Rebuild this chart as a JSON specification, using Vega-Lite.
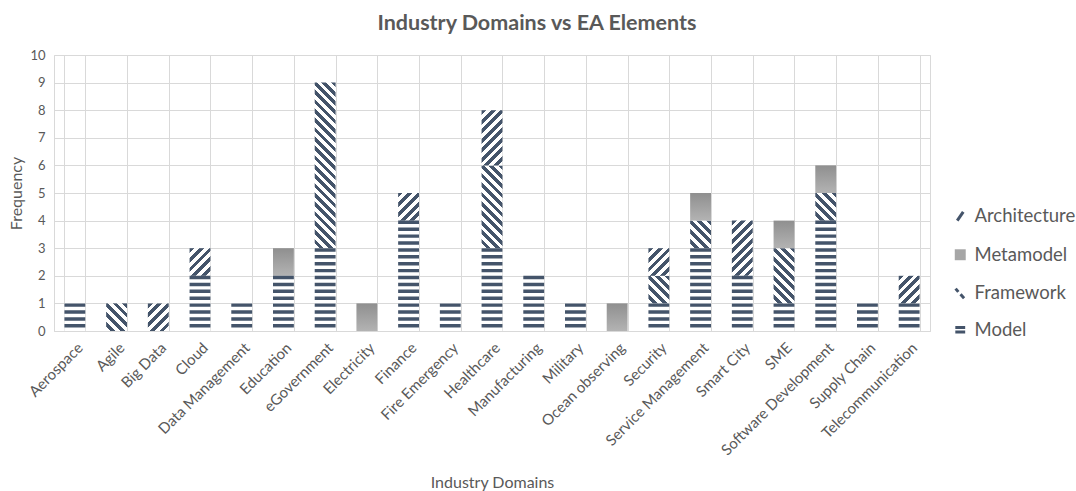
{
  "$schema": "https://vega.github.io/schema/vega-lite/v6.json",
  "width": 876,
  "height": 276,
  "autosize": "none",
  "padding": {"left": 54, "top": 55, "right": 146, "bottom": 160},
  "background": "white",
  "title": {"text": "Industry Domains vs EA Elements", "font": "Lato", "fontSize": 21.5, "fontWeight": "bold", "color": "#595959", "anchor": "middle", "dx": 45, "offset": 15},
  "config": {"font": "Lato", "view": {"stroke": "#d9d9d9"}},
  "data": {"values": [
    {"domain": "Aerospace", "element": "Model", "count": 1},
    {"domain": "Agile", "element": "Framework", "count": 1},
    {"domain": "Big Data", "element": "Architecture", "count": 1},
    {"domain": "Cloud", "element": "Model", "count": 2},
    {"domain": "Cloud", "element": "Architecture", "count": 1},
    {"domain": "Data Management", "element": "Model", "count": 1},
    {"domain": "Education", "element": "Model", "count": 2},
    {"domain": "Education", "element": "Metamodel", "count": 1},
    {"domain": "eGovernment", "element": "Model", "count": 3},
    {"domain": "eGovernment", "element": "Framework", "count": 6},
    {"domain": "Electricity", "element": "Metamodel", "count": 1},
    {"domain": "Finance", "element": "Model", "count": 4},
    {"domain": "Finance", "element": "Architecture", "count": 1},
    {"domain": "Fire Emergency", "element": "Model", "count": 1},
    {"domain": "Healthcare", "element": "Model", "count": 3},
    {"domain": "Healthcare", "element": "Framework", "count": 3},
    {"domain": "Healthcare", "element": "Architecture", "count": 2},
    {"domain": "Manufacturing", "element": "Model", "count": 2},
    {"domain": "Military", "element": "Model", "count": 1},
    {"domain": "Ocean observing", "element": "Metamodel", "count": 1},
    {"domain": "Security", "element": "Model", "count": 1},
    {"domain": "Security", "element": "Framework", "count": 1},
    {"domain": "Security", "element": "Architecture", "count": 1},
    {"domain": "Service Management", "element": "Model", "count": 3},
    {"domain": "Service Management", "element": "Framework", "count": 1},
    {"domain": "Service Management", "element": "Metamodel", "count": 1},
    {"domain": "Smart City", "element": "Model", "count": 2},
    {"domain": "Smart City", "element": "Architecture", "count": 2},
    {"domain": "SME", "element": "Model", "count": 1},
    {"domain": "SME", "element": "Framework", "count": 2},
    {"domain": "SME", "element": "Metamodel", "count": 1},
    {"domain": "Software Development", "element": "Model", "count": 4},
    {"domain": "Software Development", "element": "Framework", "count": 1},
    {"domain": "Software Development", "element": "Metamodel", "count": 1},
    {"domain": "Supply Chain", "element": "Model", "count": 1},
    {"domain": "Telecommunication", "element": "Model", "count": 1},
    {"domain": "Telecommunication", "element": "Architecture", "count": 1}
  ]},
  "transform": [
    {"calculate": "indexof(['Model','Framework','Metamodel','Architecture'], datum.element)", "as": "ord"},
    {"stack": "count", "groupby": ["domain"], "sort": [{"field": "ord", "order": "ascending"}], "as": ["y0", "y1"]}
  ],
  "encoding": {
    "x": {"field": "domain", "type": "nominal", "sort": null,
      "scale": {"paddingInner": 0.5, "paddingOuter": 0.25},
      "axis": {"title": "Industry Domains", "labelAngle": -45, "labelFontSize": 15, "labelColor": "#595959", "ticks": false, "domainColor": "#d9d9d9", "grid": true, "gridColor": "#d9d9d9", "tickBand": "extent", "labelPadding": 9, "titleFontSize": 16, "titleFontWeight": "normal", "titleColor": "#595959", "titlePadding": 17}},
    "y": {"field": "y1", "type": "quantitative", "scale": {"domain": [0, 10]},
      "axis": {"title": "Frequency", "values": [0,1,2,3,4,5,6,7,8,9,10], "domain": false, "ticks": false, "grid": true, "gridColor": "#d9d9d9", "labelFontSize": 13, "labelColor": "#595959", "labelPadding": 9, "titleFontSize": 16, "titleFontWeight": "normal", "titleColor": "#595959", "titlePadding": 5}},
    "y2": {"field": "y0"}
  },
  "layer": [
    {
      "mark": {"type": "bar", "strokeWidth": 0},
      "encoding": {
        "fill": {
          "field": "element", "type": "nominal",
          "scale": {"domain": ["Architecture", "Metamodel", "Framework", "Model"], "range": ["#44546a", "#a6a6a6", "#44546a", "#ffffff"]},
          "legend": {
            "title": null, "orient": "none", "legendX": 897, "legendY": 152,
            "labelFontSize": 18.5, "labelColor": "#595959", "labelFont": "Lato",
            "rowPadding": 15.5, "symbolSize": 120, "labelOffset": 5,
            "symbolStrokeWidth": 2.5, "symbolStrokeColor": "#44546a",
            "encoding": {"symbols": {
              "shape": {"condition": [
                {"test": "datum.value === 'Architecture'", "value": "M-0.55,0.8L0.55,-0.8"},
                {"test": "datum.value === 'Framework'", "value": "M-0.85,-0.85L-0.35,-0.25M0.05,0.2L0.7,0.9"},
                {"test": "datum.value === 'Model'", "value": "M-0.9,-0.4L0.9,-0.4M-0.9,0.4L0.9,0.4"}
              ], "value": "square"},
              "stroke": {"condition": {"test": "datum.value === 'Metamodel'", "value": "transparent"}, "value": "#44546a"},
              "fill": {"condition": {"test": "datum.value === 'Metamodel'", "value": "#a6a6a6"}, "value": "transparent"},
              "strokeWidth": {"value": 3}
            }}
          },
          "condition": [
            {"test": "datum.element === 'Metamodel'", "value": {"gradient": "linear", "x1": 0, "y1": 0, "x2": 0, "y2": 1, "stops": [{"offset": 0, "color": "#8f8f8f"}, {"offset": 1, "color": "#b3b3b3"}]}},
            {"test": "datum.element === 'Framework' && datum.count === 1", "value": {"gradient": "linear", "x1": 1, "y1": 0, "x2": 0.1555, "y2": 1.1175, "stops": [
              {"offset":0,"color":"#44546a"},{"offset":0.1,"color":"#44546a"},{"offset":0.1,"color":"#fff"},{"offset":0.2,"color":"#fff"},{"offset":0.2,"color":"#44546a"},{"offset":0.3,"color":"#44546a"},{"offset":0.3,"color":"#fff"},{"offset":0.4,"color":"#fff"},{"offset":0.4,"color":"#44546a"},{"offset":0.5,"color":"#44546a"},{"offset":0.5,"color":"#fff"},{"offset":0.6,"color":"#fff"},{"offset":0.6,"color":"#44546a"},{"offset":0.7,"color":"#44546a"},{"offset":0.7,"color":"#fff"},{"offset":0.8,"color":"#fff"},{"offset":0.8,"color":"#44546a"},{"offset":0.9,"color":"#44546a"},{"offset":0.9,"color":"#fff"},{"offset":1,"color":"#fff"}]}},
            {"test": "datum.element === 'Architecture' && datum.count === 1", "value": {"gradient": "linear", "x1": 0, "y1": 0, "x2": 0.8445, "y2": 1.1175, "stops": [
              {"offset":0,"color":"#44546a"},{"offset":0.1,"color":"#44546a"},{"offset":0.1,"color":"#fff"},{"offset":0.2,"color":"#fff"},{"offset":0.2,"color":"#44546a"},{"offset":0.3,"color":"#44546a"},{"offset":0.3,"color":"#fff"},{"offset":0.4,"color":"#fff"},{"offset":0.4,"color":"#44546a"},{"offset":0.5,"color":"#44546a"},{"offset":0.5,"color":"#fff"},{"offset":0.6,"color":"#fff"},{"offset":0.6,"color":"#44546a"},{"offset":0.7,"color":"#44546a"},{"offset":0.7,"color":"#fff"},{"offset":0.8,"color":"#fff"},{"offset":0.8,"color":"#44546a"},{"offset":0.9,"color":"#44546a"},{"offset":0.9,"color":"#fff"},{"offset":1,"color":"#fff"}]}},
            {"test": "datum.element === 'Framework' && datum.count === 2", "value": {"gradient": "linear", "x1": 1, "y1": 0, "x2": 0.5444, "y2": 1.2057, "stops": [
              {"offset":0,"color":"#44546a"},{"offset":0.0625,"color":"#44546a"},{"offset":0.0625,"color":"#fff"},{"offset":0.125,"color":"#fff"},{"offset":0.125,"color":"#44546a"},{"offset":0.1875,"color":"#44546a"},{"offset":0.1875,"color":"#fff"},{"offset":0.25,"color":"#fff"},{"offset":0.25,"color":"#44546a"},{"offset":0.3125,"color":"#44546a"},{"offset":0.3125,"color":"#fff"},{"offset":0.375,"color":"#fff"},{"offset":0.375,"color":"#44546a"},{"offset":0.4375,"color":"#44546a"},{"offset":0.4375,"color":"#fff"},{"offset":0.5,"color":"#fff"},{"offset":0.5,"color":"#44546a"},{"offset":0.5625,"color":"#44546a"},{"offset":0.5625,"color":"#fff"},{"offset":0.625,"color":"#fff"},{"offset":0.625,"color":"#44546a"},{"offset":0.6875,"color":"#44546a"},{"offset":0.6875,"color":"#fff"},{"offset":0.75,"color":"#fff"},{"offset":0.75,"color":"#44546a"},{"offset":0.8125,"color":"#44546a"},{"offset":0.8125,"color":"#fff"},{"offset":0.875,"color":"#fff"},{"offset":0.875,"color":"#44546a"},{"offset":0.9375,"color":"#44546a"},{"offset":0.9375,"color":"#fff"},{"offset":1,"color":"#fff"}]}},
            {"test": "datum.element === 'Architecture' && datum.count === 2", "value": {"gradient": "linear", "x1": 0, "y1": 0, "x2": 0.4556, "y2": 1.2057, "stops": [
              {"offset":0,"color":"#44546a"},{"offset":0.0625,"color":"#44546a"},{"offset":0.0625,"color":"#fff"},{"offset":0.125,"color":"#fff"},{"offset":0.125,"color":"#44546a"},{"offset":0.1875,"color":"#44546a"},{"offset":0.1875,"color":"#fff"},{"offset":0.25,"color":"#fff"},{"offset":0.25,"color":"#44546a"},{"offset":0.3125,"color":"#44546a"},{"offset":0.3125,"color":"#fff"},{"offset":0.375,"color":"#fff"},{"offset":0.375,"color":"#44546a"},{"offset":0.4375,"color":"#44546a"},{"offset":0.4375,"color":"#fff"},{"offset":0.5,"color":"#fff"},{"offset":0.5,"color":"#44546a"},{"offset":0.5625,"color":"#44546a"},{"offset":0.5625,"color":"#fff"},{"offset":0.625,"color":"#fff"},{"offset":0.625,"color":"#44546a"},{"offset":0.6875,"color":"#44546a"},{"offset":0.6875,"color":"#fff"},{"offset":0.75,"color":"#fff"},{"offset":0.75,"color":"#44546a"},{"offset":0.8125,"color":"#44546a"},{"offset":0.8125,"color":"#fff"},{"offset":0.875,"color":"#fff"},{"offset":0.875,"color":"#44546a"},{"offset":0.9375,"color":"#44546a"},{"offset":0.9375,"color":"#fff"},{"offset":1,"color":"#fff"}]}},
            {"test": "datum.element === 'Framework' && datum.count === 3", "value": {"gradient": "linear", "x1": 1, "y1": 0, "x2": 0.7035, "y2": 1.1772, "stops": [
              {"offset":0,"color":"#44546a"},{"offset":0.0455,"color":"#44546a"},{"offset":0.0455,"color":"#fff"},{"offset":0.0909,"color":"#fff"},{"offset":0.0909,"color":"#44546a"},{"offset":0.1364,"color":"#44546a"},{"offset":0.1364,"color":"#fff"},{"offset":0.1818,"color":"#fff"},{"offset":0.1818,"color":"#44546a"},{"offset":0.2273,"color":"#44546a"},{"offset":0.2273,"color":"#fff"},{"offset":0.2727,"color":"#fff"},{"offset":0.2727,"color":"#44546a"},{"offset":0.3182,"color":"#44546a"},{"offset":0.3182,"color":"#fff"},{"offset":0.3636,"color":"#fff"},{"offset":0.3636,"color":"#44546a"},{"offset":0.4091,"color":"#44546a"},{"offset":0.4091,"color":"#fff"},{"offset":0.4545,"color":"#fff"},{"offset":0.4545,"color":"#44546a"},{"offset":0.5,"color":"#44546a"},{"offset":0.5,"color":"#fff"},{"offset":0.5455,"color":"#fff"},{"offset":0.5455,"color":"#44546a"},{"offset":0.5909,"color":"#44546a"},{"offset":0.5909,"color":"#fff"},{"offset":0.6364,"color":"#fff"},{"offset":0.6364,"color":"#44546a"},{"offset":0.6818,"color":"#44546a"},{"offset":0.6818,"color":"#fff"},{"offset":0.7273,"color":"#fff"},{"offset":0.7273,"color":"#44546a"},{"offset":0.7727,"color":"#44546a"},{"offset":0.7727,"color":"#fff"},{"offset":0.8182,"color":"#fff"},{"offset":0.8182,"color":"#44546a"},{"offset":0.8636,"color":"#44546a"},{"offset":0.8636,"color":"#fff"},{"offset":0.9091,"color":"#fff"},{"offset":0.9091,"color":"#44546a"},{"offset":0.9545,"color":"#44546a"},{"offset":0.9545,"color":"#fff"},{"offset":1,"color":"#fff"}]}},
            {"test": "datum.element === 'Framework' && datum.count === 6", "value": {"gradient": "linear", "x1": 1, "y1": 0, "x2": 0.8604, "y2": 1.1084, "stops": [
              {"offset":0,"color":"#44546a"},{"offset":0.025,"color":"#44546a"},{"offset":0.025,"color":"#fff"},{"offset":0.05,"color":"#fff"},{"offset":0.05,"color":"#44546a"},{"offset":0.075,"color":"#44546a"},{"offset":0.075,"color":"#fff"},{"offset":0.1,"color":"#fff"},{"offset":0.1,"color":"#44546a"},{"offset":0.125,"color":"#44546a"},{"offset":0.125,"color":"#fff"},{"offset":0.15,"color":"#fff"},{"offset":0.15,"color":"#44546a"},{"offset":0.175,"color":"#44546a"},{"offset":0.175,"color":"#fff"},{"offset":0.2,"color":"#fff"},{"offset":0.2,"color":"#44546a"},{"offset":0.225,"color":"#44546a"},{"offset":0.225,"color":"#fff"},{"offset":0.25,"color":"#fff"},{"offset":0.25,"color":"#44546a"},{"offset":0.275,"color":"#44546a"},{"offset":0.275,"color":"#fff"},{"offset":0.3,"color":"#fff"},{"offset":0.3,"color":"#44546a"},{"offset":0.325,"color":"#44546a"},{"offset":0.325,"color":"#fff"},{"offset":0.35,"color":"#fff"},{"offset":0.35,"color":"#44546a"},{"offset":0.375,"color":"#44546a"},{"offset":0.375,"color":"#fff"},{"offset":0.4,"color":"#fff"},{"offset":0.4,"color":"#44546a"},{"offset":0.425,"color":"#44546a"},{"offset":0.425,"color":"#fff"},{"offset":0.45,"color":"#fff"},{"offset":0.45,"color":"#44546a"},{"offset":0.475,"color":"#44546a"},{"offset":0.475,"color":"#fff"},{"offset":0.5,"color":"#fff"},{"offset":0.5,"color":"#44546a"},{"offset":0.525,"color":"#44546a"},{"offset":0.525,"color":"#fff"},{"offset":0.55,"color":"#fff"},{"offset":0.55,"color":"#44546a"},{"offset":0.575,"color":"#44546a"},{"offset":0.575,"color":"#fff"},{"offset":0.6,"color":"#fff"},{"offset":0.6,"color":"#44546a"},{"offset":0.625,"color":"#44546a"},{"offset":0.625,"color":"#fff"},{"offset":0.65,"color":"#fff"},{"offset":0.65,"color":"#44546a"},{"offset":0.675,"color":"#44546a"},{"offset":0.675,"color":"#fff"},{"offset":0.7,"color":"#fff"},{"offset":0.7,"color":"#44546a"},{"offset":0.725,"color":"#44546a"},{"offset":0.725,"color":"#fff"},{"offset":0.75,"color":"#fff"},{"offset":0.75,"color":"#44546a"},{"offset":0.775,"color":"#44546a"},{"offset":0.775,"color":"#fff"},{"offset":0.8,"color":"#fff"},{"offset":0.8,"color":"#44546a"},{"offset":0.825,"color":"#44546a"},{"offset":0.825,"color":"#fff"},{"offset":0.85,"color":"#fff"},{"offset":0.85,"color":"#44546a"},{"offset":0.875,"color":"#44546a"},{"offset":0.875,"color":"#fff"},{"offset":0.9,"color":"#fff"},{"offset":0.9,"color":"#44546a"},{"offset":0.925,"color":"#44546a"},{"offset":0.925,"color":"#fff"},{"offset":0.95,"color":"#fff"},{"offset":0.95,"color":"#44546a"},{"offset":0.975,"color":"#44546a"},{"offset":0.975,"color":"#fff"},{"offset":1,"color":"#fff"}]}}
          ]
        }
      }
    },
    {
      "transform": [{"filter": "datum.element === 'Model'"}],
      "mark": {"type": "rule", "color": "#44546a", "strokeWidth": 20.857, "strokeDash": [3.45, 3.45], "strokeCap": "butt"},
      "encoding": {}
    }
  ]
}
